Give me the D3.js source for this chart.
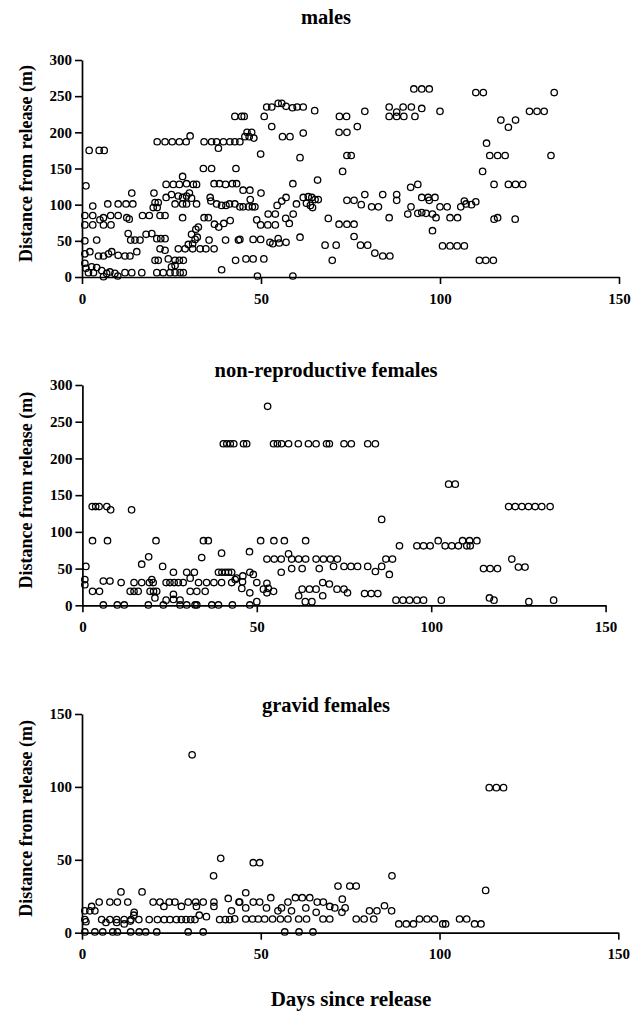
<!DOCTYPE html>
<html>
<head>
<meta charset="utf-8">
<script src="https://cdn.jsdelivr.net/npm/d3@7"></script>
<style>
  body { margin: 0; background: #fff; }
  svg text { font-family: "Liberation Serif", "Times New Roman", serif; font-weight: bold; fill: #000; }
</style>
</head>
<body>
<svg id="chart" width="632" height="1012"></svg>
<script>
// each point: [days since release, distance from release (m)]
var males = [
  [42.7,222],[30.2,195],
  [21.0,187],[23.2,187],[25.2,187],[27.2,187],[29.1,187],[34.1,187],[36.2,187],[37.6,187],[39.5,187],[41.3,187],[42.7,187],
  [38.1,178],[2.0,175],[4.8,175],[6.2,175],
  [33.9,150],[36.2,150],[43.0,150],[28.1,139],
  [23.5,128],[25.5,128],[27.2,128],[29.2,129],[31.1,128],[32.0,128],[36.9,129],[38.4,129],[40.1,128],[42.0,129],[43.2,129],
  [1.1,126],[13.9,116],[20.1,116],[30.0,116],
  [25.0,114],[26.9,112],[28.1,110],[29.2,112],[30.6,109],
  [26.0,101],[28.1,101],[29.2,101],[28.1,82],
  [7.2,101],[10.1,101],[12.3,101],[14.2,101],
  [20.4,103],[21.3,103],[19.9,96],[21.0,96],[23.5,110],[32.0,101],[35.8,110],[36.0,105],
  [37.6,101],[39.0,99],[40.2,99],[41.2,101],[42.7,101],[3.0,98],
  [0.8,85],[3.0,85],[6.0,82],[8.0,85],[10.1,85],[12.5,82],[16.9,85],[18.8,85],[21.8,85],[23.2,85],[13.2,80],[5.0,79],
  [0.8,72],[3.0,72],[6.0,72],[8.1,72],
  [12.9,60],[13.6,51],[14.8,51],[16.2,51],[17.9,59],[19.5,60],[20.9,53],[22.0,53],[23.2,53],
  [30.6,59],[31.8,66],[32.5,69],[35.5,51],[40.1,51],[43.7,51],
  [34.1,82],[35.3,82],[37.0,73],[38.2,69],[39.6,74],[41.4,78],
  [0.8,50],[4.1,51],[21.8,39],[23.2,37],
  [26.9,39],[28.8,39],[30.9,39],[33.0,39],[34.6,39],[36.9,39],
  [29.7,45],[30.9,46],[31.6,52],[32.2,55],
  [0.8,32],[2.2,35],[4.6,29],[6.0,29],[7.4,32],[8.3,35],[10.1,30],[12.0,29],[13.4,29],[15.3,35],
  [20.4,23],[21.3,23],[24.1,25],[26.0,23],[27.2,23],[28.3,23],[42.9,23],
  [0.8,19],[1.1,12],[2.7,14],[4.1,13],[1.8,6],[3.2,6],[5.5,9],[6.9,5],[7.8,7],[9.2,5],[6.0,0.5],[10.0,1.4],
  [12.0,6],[13.9,6],[16.7,6],[20.9,6],[22.7,6],[24.6,6],[26.0,6],[27.4,6],[28.3,6],
  [25.0,14],[26.0,16],[39.0,10],
  [44.6,222],[45.3,222],[50.9,222],
  [51.6,235],[53.0,235],[54.8,240],[55.8,240],[57.0,236],[58.8,234],[60.1,235],[61.8,235],[65.0,230],
  [92.7,260],[85.8,235],[87.9,228],[89.7,235],[92.0,235],[53.0,208],
  [71.9,222],[73.9,222],[79.0,229],[85.8,222],[87.9,222],[89.9,222],[93.0,222],
  [46.1,200],[47.4,200],[45.5,194],[46.7,194],[48.0,192],
  [56.0,194],[58.1,194],[61.8,199],[71.8,200],[74.0,200],[76.9,208],[44.1,187],
  [49.9,170],[60.9,165],[74.0,168],[75.2,168],[72.8,146],[65.8,134],[58.9,129],
  [45.0,120],[46.9,120],[50.0,116],[93.8,128],[91.8,124],
  [74.0,106],[76.0,106],[79.0,114],[84.0,114],[87.9,114],[87.9,106],
  [61.8,110],[63.2,111],[64.2,110],[65.1,107],[66.0,107],[62.7,102],[63.8,99],[64.4,96],
  [57.0,110],[55.8,105],[54.5,99],[59.9,101],
  [44.1,97],[45.0,97],[46.5,97],[47.6,97],[48.3,97],[47.0,107],
  [78.0,100],[80.9,97],[82.8,97],[91.9,97],
  [68.8,81],[71.8,73],[74.0,73],[76.0,73],[85.8,82],[91.0,87],[93.8,88],
  [48.8,79],[49.9,72],[51.9,72],[54.0,72],[52.0,87],[54.0,87],[56.9,81],[57.9,74],[59.0,87],
  [76.0,56],
  [47.8,52],[49.9,52],[52.5,48],[53.3,46],[54.8,53],[55.1,47],[57.0,48],[60.9,55],[44.1,52],
  [67.9,44],[71.0,44],[77.8,44],[79.8,44],[81.8,33],[84.0,29],[86.0,29],[69.9,23],
  [45.8,25],[47.8,25],[50.8,25],[49.0,1.4],[58.9,1.4],
  [94.9,260],[97.0,260],[110.0,255],[112.1,255],[131.9,255],
  [94.9,233],[100.0,229],[125.0,229],[127.1,229],[129.1,229],
  [117.0,217],[119.1,207],[121.1,217],[113.0,185],
  [113.9,168],[116.1,168],[118.2,168],[131.0,168],[111.9,146],
  [115.1,128],[119.1,128],[121.1,128],[123.1,128],
  [94.9,110],[96.7,110],[98.6,110],[97.0,106],
  [100.0,97],[102.0,97],[105.8,97],[106.8,105],[107.3,101],[108.8,100],[110.0,104],
  [94.9,89],[96.1,88],[97.9,87],[98.9,82],[102.8,82],[104.9,82],[97.9,64],
  [115.1,80],[116.1,82],[121.0,80],
  [100.7,43],[102.8,43],[104.8,43],[106.8,43],
  [111.0,23],[112.8,23],[114.9,23]
];

var nonRepFemales = [
  [40.4,220],[41.4,220],[42.4,220],[43.4,220],
  [2.8,134.5],[3.8,134.5],[4.8,134.5],[7.0,134.5],[8.1,130],[14.1,130],
  [2.9,88],[7.2,88],[21.1,88],[34.7,88],[36.1,88],
  [34.2,65],[19.0,66],[17.0,56],[39.9,71],[23.0,53],[1.0,53],
  [26.1,45],[29.9,45],[32.1,45],[39.0,45],[40.0,45],[41.0,45],[41.9,45],[42.8,45],
  [0.7,35],[0.7,28],[6.0,33],[7.9,33],[11.1,31],
  [14.8,31],[17.0,31],[19.2,31],[19.9,35],[20.3,31],[24.0,31],[25.1,31],[26.3,31],[27.5,31],[28.9,31],
  [33.3,31],[35.6,31],[37.7,31],[39.9,31],[42.8,31],[43.8,35],[44.2,37],[30.9,37],
  [13.7,19],[14.8,19],[16.0,19],[19.4,19],[20.4,19],[21.3,19],[26.1,15],[30.9,19],[32.8,19],[35.2,19],[2.9,19],[4.9,19],
  [20.8,10],[24.0,7],[26.1,8],[28.0,7],
  [6.0,0.5],[10.0,0.5],[12.0,0.5],[18.9,0.5],[23.2,0.5],[28.0,0.5],[29.9,0.5],[32.3,0.5],[32.8,0.5],[37.1,0.5],[39.0,0.5],[43.0,0.5],
  [53.1,271],
  [46.2,220],[47.1,220],[54.8,220],[55.9,220],[57.1,220],[59.1,220],[61.9,220],[64.8,220],[67.0,220],[70.0,220],[70.8,220],[75.0,220],[77.1,220],[81.8,220],[84.0,220],
  [85.8,117],[51.1,88],[54.9,88],[57.9,88],[64.0,88],[47.9,73],[90.9,81],[95.9,81],
  [52.9,63],[55.0,63],[57.0,63],[59.1,70],[60.0,63],[62.0,63],[64.0,63],[67.0,63],[69.1,63],[71.1,63],[73.1,63],
  [57.0,45],[60.0,50],[63.0,50],[67.9,50],[72.0,53],[75.0,53],[77.0,53],[78.9,53],[81.8,53],[84.0,46],[85.8,53],[87.0,63],[88.9,63],[88.0,42],
  [46.0,40],[48.0,45],[49.0,42],[45.9,32],[45.7,23],[50.0,31],[52.9,30],[51.9,22],[53.3,23],[54.8,19],[52.9,17],[48.0,17],
  [63.0,22],[65.1,22],[67.0,22],[62.0,13],[68.9,31],[70.8,29],[68.9,13],[73.0,22],[75.0,22],[76.0,17],[80.9,16],[82.8,16],[84.7,16],
  [63.9,5],[65.8,5],[48.0,0.5],[50.0,5],
  [89.9,7],[91.9,7],[93.8,7],[95.9,7],
  [97.8,81],[99.7,81],[102.0,88],[104.0,81],[105.9,81],[107.8,81],[109.0,88],[110.2,81],[111.0,88],[111.2,81],[113.1,88],
  [105.0,165],[106.9,165],
  [122.2,134.5],[124.1,134.5],[126.0,134.5],[127.9,134.5],[129.8,134.5],[131.7,134.5],[134.1,134.5],
  [115.0,50],[116.9,50],[119.0,50],[123.1,63],[125.0,52],[126.9,52],
  [97.8,7],[102.9,7],[116.7,10],[118.0,7],[128.0,5],[135.1,7]
];

var gravidFemales = [
  [30.8,122],[38.8,51],[36.8,39],[10.9,28],[16.8,28],
  [4.8,21],[7.8,21],[9.9,21],[12.8,21],[19.9,21],[21.8,21],[24.4,21],[26.0,21],[29.7,21],[31.8,21],[33.9,21],[36.9,21],[43.9,21],
  [36.9,18],[40.9,23.5],[0.8,15],[2.2,15],[3.6,15],[2.7,18],[22.9,18],[27.8,18],[32.0,18],[14.6,14],[41.8,15],
  [0.8,9],[1.1,7.5],[5.5,9],[6.7,7],[7.8,9],[9.7,9],[11.8,9],[13.7,9],[15.9,9],[18.8,9],[21.1,9],[23.0,9],[24.6,9],[26.4,9],
  [27.8,9],[29.1,9],[30.4,9],[31.6,9],[32.8,12],[34.8,11],[38.5,9],[40.1,9],[41.3,9],[42.7,9.5],
  [9.7,7],[11.8,6],[13.5,8],[14.5,12],
  [0.8,0.5],[3.6,0.5],[5.8,0.5],[8.6,0.5],[9.9,0.5],[13.6,0.5],[16.0,0.5],[17.8,0.5],[20.9,0.5],[29.7,0.5],[33.9,0.5],
  [47.9,48],[49.7,48],[86.7,39],[71.6,32],[74.9,32],[76.7,32],
  [45.8,27.4],[52.8,24],[59.7,24],[61.6,24],[63.7,24],[72.8,23],[84.6,18.5],
  [44.1,21],[47.9,21],[49.7,21],[57.6,21],[65.8,21],[67.5,21],
  [69.3,18],[70.7,17],[73.6,17],[62.6,17],[51.6,17],[45.8,17],[55.8,17],[54.8,15],
  [58.6,15],[65.5,14],[72.7,14],[80.4,15],[82.5,15],[86.6,15],
  [45.8,9.4],[47.7,9.4],[49.3,9.4],[51.1,9.4],[53.3,9.4],[55.5,9.4],[57.6,9.4],[60.6,9.4],[62.8,9.4],[67.4,9.4],[69.3,9.4],[76.7,9.4],[78.9,9.4],[81.6,9.4],
  [88.6,6],[90.7,6],[92.7,6],[56.7,0.5],[60.7,0.5],[64.6,0.5],
  [113.9,99.5],[115.9,99.5],[117.9,99.5],[112.9,29],
  [94.4,9.4],[96.5,9.4],[98.6,9.4],[100.9,6],[101.7,6],[105.6,9.4],[107.6,9.4],[109.8,6],[111.6,6]
];

var dayTicks = [0, 50, 100, 150];
var distTicksWide = [0, 50, 100, 150, 200, 250, 300];
var distTicksGravid = [0, 50, 100, 150];
var panelTitles = ["males", "non-reproductive females", "gravid females"];
var yTitle = "Distance from release (m)";
var xTitle = "Days since release";

// panel geometry (pixels)
var panels = [
  { data: males,         title: panelTitles[0], yTicks: distTicksWide,   x0: 82,   x1: 619,   y0: 277,   y1: 60,  titleY: 24 },
  { data: nonRepFemales, title: panelTitles[1], yTicks: distTicksWide,   x0: 82.4, x1: 605.6, y0: 605.3, y1: 385, titleY: 377 },
  { data: gravidFemales, title: panelTitles[2], yTicks: distTicksGravid, x0: 82,   x1: 618.3, y0: 932.7, y1: 714, titleY: 712 }
];

var svg = d3.select("#chart");

panels.forEach(function(p) {
  var x = d3.scaleLinear().domain([0, 150]).range([p.x0, p.x1]);
  var y = d3.scaleLinear().domain([0, d3.max(p.yTicks)]).range([p.y0, p.y1]);
  var g = svg.append("g");

  // x axis
  var xa = g.append("g")
    .attr("transform", "translate(0," + p.y0 + ")")
    .call(d3.axisBottom(x).tickValues(dayTicks).tickSize(7).tickSizeOuter(0).tickPadding(9));
  // y axis
  var ya = g.append("g")
    .attr("transform", "translate(" + p.x0 + ",0)")
    .call(d3.axisLeft(y).tickValues(p.yTicks).tickSize(7).tickSizeOuter(0).tickPadding(3));

  [xa, ya].forEach(function(a) {
    a.select(".domain").attr("stroke", "#000").attr("stroke-width", 1.7);
    a.selectAll(".tick line").attr("stroke", "#000").attr("stroke-width", 1.6);
    a.selectAll(".tick text")
      .style("font-family", "'Liberation Serif', serif")
      .style("font-weight", "bold")
      .style("font-size", "15px")
      .attr("fill", "#000");
  });

  // points
  g.append("g").selectAll("circle")
    .data(p.data)
    .enter()
    .append("circle")
    .attr("cx", function(d) { return x(d[0]); })
    .attr("cy", function(d) { return y(d[1]); })
    .attr("r", 3.2)
    .attr("fill", "none")
    .attr("stroke", "#000")
    .attr("stroke-width", 1.3);

  // panel title
  g.append("text")
    .attr("x", 326)
    .attr("y", p.titleY)
    .attr("text-anchor", "middle")
    .style("font-size", "20.5px")
    .text(p.title);

  // y axis title
  var cy = (p.y0 + p.y1) / 2 - 5;
  g.append("text")
    .attr("transform", "translate(32," + cy + ") rotate(-90)")
    .attr("text-anchor", "middle")
    .style("font-size", "18px")
    .text(yTitle);
});

svg.append("text")
  .attr("x", 351)
  .attr("y", 1006)
  .attr("text-anchor", "middle")
  .style("font-size", "21px")
  .text(xTitle);
</script>
</body>
</html>
